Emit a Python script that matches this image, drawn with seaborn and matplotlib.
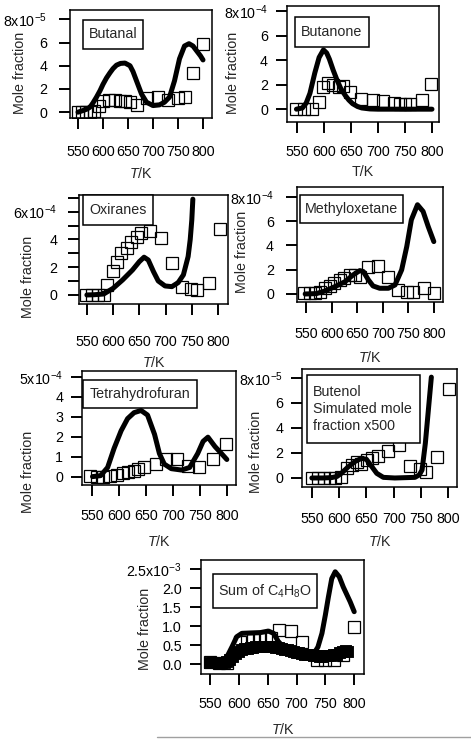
import matplotlib
matplotlib.use("Agg")
import matplotlib.pyplot as plt
import seaborn as sns
from matplotlib.patches import Rectangle
from matplotlib.lines import Line2D

# ---------------- data ----------------
x_ticks = [550, 600, 650, 700, 750, 800]

# Butanal (units of 1e-5)
butanal_exp_T = [550, 558, 566, 574, 582, 591, 600, 612, 624, 634, 644, 654, 668, 688, 710, 730, 749, 763, 779, 800]
butanal_exp = [0.05, 0.05, 0.05, 0.05, 0.1, 0.5, 1.0, 1.05, 1.05, 1.0, 0.95, 0.9, 0.6, 1.2, 1.35, 1.05, 1.2, 1.3, 3.35, 5.85]
butanal_sim_T = [550, 557, 567, 574, 580, 587, 594, 600, 607, 614, 620, 627, 635, 644, 654, 660, 667, 677, 687, 700,
                 713, 723, 733, 743, 753, 763, 772, 780, 787, 795, 800]
butanal_sim = [0.0, 0.1, 0.25, 0.43, 0.8, 1.3, 1.85, 2.4, 2.95, 3.4, 3.75, 4.05, 4.2, 4.23, 4.0, 3.5, 2.7, 1.57, 0.86, 0.57,
               0.63, 0.86, 1.3, 2.7, 4.6, 5.7, 5.9, 5.7, 5.3, 4.85, 4.5]

# Butanone (units of 1e-4)
butanone_exp_T = [549, 563, 577, 590, 599, 608, 617, 627, 636, 648, 669, 691, 710, 729, 741, 750, 759, 781, 799]
butanone_exp = [0.03, 0.0, 0.0, 0.6, 1.85, 2.13, 2.0, 1.85, 1.9, 1.43, 0.87, 0.73, 0.65, 0.5, 0.45, 0.45, 0.45, 0.73, 2.08]
butanone_sim_T = [549, 560, 567, 574, 583, 591, 599, 605, 610, 617, 624, 631, 639, 646, 653, 662, 670, 685, 700, 750, 800]
butanone_sim = [0, 0.1, 0.5, 1.3, 2.97, 4.24, 4.86, 4.6, 4.1, 3.2, 2.4, 1.7, 1.15, 0.75, 0.45, 0.22, 0.1, 0.02, 0, 0, 0]

# Oxiranes (units of 1e-4)
oxiranes_exp_T = [548, 559, 572, 582, 589, 599, 607, 616, 626, 635, 645, 654, 670, 691, 712, 731, 748, 759, 782, 804]
oxiranes_exp = [0, 0, 0, 0, 0.72, 1.76, 2.34, 3.0, 3.37, 3.78, 4.17, 4.46, 4.58, 4.1, 2.29, 0.55, 0.41, 0.36, 0.84, 4.75]
oxiranes_sim_T = [550, 565, 582, 600, 618, 637, 650, 659, 667, 677, 686, 699, 712, 724, 734, 743, 747, 750, 752]
oxiranes_sim = [0, 0.02, 0.07, 0.48, 1.08, 1.8, 2.4, 2.72, 2.52, 1.68, 1.01, 0.65, 0.6, 0.89, 1.45, 2.77, 4.0, 5.4, 6.9]

# Methyloxetane (units of 1e-4)
methylox_exp_T = [545, 558, 568, 577, 587, 597, 605, 616, 625, 636, 646, 656, 671, 690, 710, 729, 747, 760, 781, 801]
methylox_exp = [0.05, 0.05, 0.05, 0.19, 0.47, 0.66, 0.93, 1.15, 1.29, 1.57, 1.57, 1.43, 2.2, 2.3, 1.37, 0.33, 0.19, 0.19, 0.47, 0.05]
methylox_sim_T = [548, 570, 587, 606, 626, 642, 655, 662, 672, 681, 694, 711, 724, 737, 747, 756, 768, 779, 789, 800]
methylox_sim = [0, 0.03, 0.25, 0.6, 1.01, 1.57, 1.92, 1.84, 1.15, 0.66, 0.47, 0.47, 0.74, 1.98, 3.9, 6.1, 7.34, 6.79, 5.55, 4.31]

# Tetrahydrofuran (units of 1e-4)
thf_exp_T = [546, 559, 571, 583, 596, 607, 617, 627, 636, 646, 669, 688, 708, 728, 749, 775, 798]
thf_exp = [0.02, 0, 0, 0.02, 0.1, 0.16, 0.23, 0.28, 0.37, 0.46, 0.63, 0.86, 0.9, 0.54, 0.46, 0.86, 1.63]
thf_sim_T = [551, 566, 579, 591, 604, 616, 628, 641, 653, 666, 675, 684, 697, 716, 731, 746, 756, 765, 778, 790, 800]
thf_sim = [0, 0.05, 0.46, 1.42, 2.3, 2.91, 3.21, 3.32, 3.09, 2.12, 1.16, 0.63, 0.4, 0.33, 0.46, 1.16, 1.77, 1.98, 1.51, 1.16, 0.86]

# Butenol (units of 1e-5)
butenol_exp_T = [551, 562, 573, 583, 592, 603, 614, 623, 632, 641, 651, 660, 671, 690, 710, 730, 749, 760, 780, 801]
butenol_exp = [0, 0, 0, 0, 0, 0.1, 0.77, 1.04, 1.3, 1.12, 1.44, 1.57, 1.76, 2.19, 2.6, 0.96, 0.75, 0.5, 1.68, 7.1]
butenol_sim_T = [550, 570, 586, 596, 604, 617, 629, 641, 650, 660, 669, 681, 702, 739, 747, 752, 758, 763, 769]
butenol_sim = [0, 0, 0.03, 0.12, 0.37, 0.9, 1.31, 1.57, 1.49, 0.9, 0.37, 0.05, 0, 0.05, 0.25, 0.64, 2.77, 5.17, 8.05]

# Sum of C4H8O (units of 1e-3)
sum_exp_T = [550, 565, 580, 602, 614, 625, 636, 646, 655, 670, 691, 709, 735, 750, 765, 780, 799]
sum_exp = [0.05, 0.02, 0.03, 0.59, 0.63, 0.63, 0.65, 0.68, 0.7, 0.89, 0.86, 0.58, 0.12, 0.1, 0.12, 0.25, 0.97]
sum_dense_T = [550, 555, 560, 565, 570, 575, 580, 585, 590, 595, 600, 605, 610, 615, 620, 625, 630, 635, 640, 645,
               650, 655, 660, 665, 670, 675, 680, 685, 690, 695, 700, 705, 710, 715, 720, 725, 730, 735, 740, 745,
               750, 755, 760, 765, 770, 775, 780, 785, 790]
sum_dense = [0.02, 0.02, 0.02, 0.02, 0.03, 0.03, 0.05, 0.12, 0.2, 0.27, 0.32, 0.36, 0.39, 0.41, 0.42, 0.43, 0.44, 0.45, 0.46, 0.46,
             0.46, 0.45, 0.44, 0.43, 0.42, 0.40, 0.38, 0.36, 0.34, 0.32, 0.30, 0.28, 0.26, 0.25, 0.24, 0.23, 0.22, 0.21, 0.20, 0.20,
             0.21, 0.22, 0.22, 0.23, 0.25, 0.28, 0.32, 0.35, 0.33]
sum_sim_T = [550, 565, 576, 588, 596, 605, 620, 637, 651, 660, 668, 677, 690, 705, 720, 730, 737, 744, 750, 755,
             761, 767, 774, 781, 793, 800]
sum_sim = [0.0, 0.0, 0.1, 0.46, 0.72, 0.81, 0.82, 0.83, 0.87, 0.81, 0.6, 0.45, 0.35, 0.28, 0.24, 0.28, 0.45, 0.81, 1.3, 1.75,
           2.25, 2.43, 2.3, 2.03, 1.64, 1.38]

# ---------------- style ----------------
sns.set_style("ticks")
plt.rcParams["font.family"] = ["Liberation Sans", "DejaVu Sans"]
plt.rcParams["mathtext.fontset"] = "custom"
plt.rcParams["mathtext.rm"] = "Liberation Sans"
plt.rcParams["mathtext.it"] = "Liberation Sans:italic"
plt.rcParams["mathtext.bf"] = "Liberation Sans:bold"

W, H = 471, 739
FS = 10.3
TICKLEN = 11  # px
fig = plt.figure(figsize=(W / 100, H / 100), dpi=100)
fig.patch.set_facecolor("white")

TK_IT = "$T$/K"

panels = [
    dict(frame=(70, 10, 212, 118), xlim=(534, 818), ylim=(-0.5, 8.8),
         yt=[0, 2, 4, 6, 8], ytl=["0", "2", "4", "6", "8x10$^{-5}$"],
         exp=(butanal_exp_T, butanal_exp), sim=(butanal_sim_T, butanal_sim),
         box=(83, 20, 143, 49), text="Butanal", xlabel=TK_IT,
         xl_y=173, yl=(20, 73), ypad=12, xlab_c=153),
    dict(frame=(287, 6, 439, 122), xlim=(531.5, 813), ylim=(-1.05, 8.45),
         yt=[0, 2, 4, 6, 8], ytl=["0", "2", "4", "6", "8x10$^{-4}$"],
         exp=(butanone_exp_T, butanone_exp), sim=(butanone_sim_T, butanone_sim),
         box=(295, 17, 369, 47), text="Butanone", xlabel="T/K",
         xl_y=172, yl=(233, 73), ypad=8, xlab_c=153),
    dict(frame=(79, 195, 228, 304), xlim=(535, 819), ylim=(-0.65, 7.2),
         yt=[0, 1, 2, 3, 4, 5, 6, 7], ytl=["0", "", "2", "", "4", "", "6x10$^{-4}$", ""],
         exp=(oxiranes_exp_T, oxiranes_exp), sim=(oxiranes_sim_T, oxiranes_sim),
         box=(83, 195, 153, 225), text="Oxiranes", xlabel=TK_IT,
         xl_y=362, yl=(28, 277), ypad=11, xlab_c=343),
    dict(frame=(297, 187, 443, 302), xlim=(532, 818), ylim=(-0.66, 8.8),
         yt=[0, 2, 4, 6, 8], ytl=["0", "2", "4", "6", "8x10$^{-4}$"],
         exp=(methylox_exp_T, methylox_exp), sim=(methylox_sim_T, methylox_sim),
         box=(300, 195, 403, 223), text="Methyloxetane", xlabel=TK_IT,
         xl_y=358, yl=(242, 252), ypad=12, xlab_c=335),
    dict(frame=(82, 371, 236, 485), xlim=(531.5, 817), ylim=(-0.42, 5.3),
         yt=[0, 1, 2, 3, 4, 5], ytl=["0", "1", "2", "3", "4", "5x10$^{-4}$"],
         exp=(thf_exp_T, thf_exp), sim=(thf_sim_T, thf_sim),
         box=(83, 380, 197, 408), text="Tetrahydrofuran", xlabel=TK_IT,
         xl_y=542, yl=(28, 472), ypad=8, xlab_c=517),
    dict(frame=(302, 369, 457, 487), xlim=(532, 816), ylim=(-0.72, 8.7),
         yt=[0, 2, 4, 6, 8], ytl=["0", "2", "4", "6", "8x10$^{-5}$"],
         exp=(butenol_exp_T, butenol_exp), sim=(butenol_sim_T, butenol_sim),
         box=(307, 375, 420, 443), text="Butenol\nSimulated mole\nfraction x500", xlabel=TK_IT,
         xl_y=542, yl=(256, 452), ypad=8, xlab_c=520, left_text=True),
    dict(frame=(201, 560, 364, 674), xlim=(534, 817), ylim=(-0.26, 2.74),
         yt=[0, 0.5, 1.0, 1.5, 2.0, 2.5], ytl=["0.0", "0.5", "1.0", "1.5", "2.0", "2.5x10$^{-3}$"],
         exp=(sum_exp_T, sum_exp), sim=(sum_sim_T, sum_sim), dense=(sum_dense_T, sum_dense),
         box=(213, 574, 317, 608), text="Sum of C$_4$H$_8$O", xlabel=TK_IT,
         xl_y=730, yl=(145, 629), ypad=8, xlab_c=705),
]

for p in panels:
    x0, y0, x1, y1 = p["frame"]
    fw, fh = x1 - x0, y1 - y0
    ax = fig.add_axes([x0 / W, 1 - y1 / H, fw / W, fh / H])
    ax.set_facecolor("white")

    eT, eV = p["exp"]
    sns.lineplot(x=eT, y=eV, ax=ax, estimator=None, sort=False, linestyle="none",
                 marker="s", markersize=8.6, markerfacecolor="none",
                 markeredgecolor="black", markeredgewidth=0.9, zorder=2)
    if "dense" in p:
        dT, dV = p["dense"]
        sns.lineplot(x=dT, y=dV, ax=ax, estimator=None, sort=False, linestyle="none",
                     marker="s", markersize=6.0, markerfacecolor="none",
                     markeredgecolor="black", markeredgewidth=2.8, zorder=2.5)
    sT, sV = p["sim"]
    sns.lineplot(x=sT, y=sV, ax=ax, estimator=None, sort=False, color="black",
                 linewidth=3.6, zorder=3)

    ax.set_xlim(*p["xlim"])
    ax.set_ylim(*p["ylim"])
    ax.set_xticks(x_ticks)
    ax.set_xticklabels([str(t) for t in x_ticks])
    ax.set_yticks(p["yt"])
    ax.set_yticklabels(p["ytl"])

    for s in ax.spines.values():
        s.set_visible(True)
        s.set_linewidth(1.1)
        s.set_color("black")

    xpad_px = p["xlab_c"] - y1 - TICKLEN - 7.8
    ax.tick_params(axis="x", direction="out", length=TICKLEN * 0.72, width=1.4,
                   labelsize=FS, pad=xpad_px * 0.72, colors="black")
    ax.tick_params(axis="y", direction="out", length=TICKLEN * 0.72, width=1.4,
                   labelsize=FS, pad=p["ypad"] * 0.72, colors="black")

    ax.set_xlabel(p["xlabel"], fontsize=FS)
    ax.set_ylabel("Mole fraction", fontsize=FS)
    ax.xaxis.label.set_va("center")
    ax.yaxis.label.set_va("center")
    ax.xaxis.set_label_coords(0.5, (y1 - p["xl_y"]) / fh)
    lx, ly = p["yl"]
    ax.yaxis.set_label_coords((lx - x0) / fw, (y1 - ly) / fh)

    bx0, by0, bx1, by1 = p["box"]
    rx, ry = (bx0 - x0) / fw, (y1 - by1) / fh
    rw, rh = (bx1 - bx0) / fw, (by1 - by0) / fh
    ax.add_patch(Rectangle((rx, ry), rw, rh, transform=ax.transAxes, facecolor="white",
                           edgecolor="black", linewidth=1.1, zorder=5, clip_on=False))
    if p.get("left_text"):
        ax.text(rx + 6 / fw, ry + rh / 2, p["text"], transform=ax.transAxes, ha="left", va="center",
                fontsize=FS, linespacing=1.3, zorder=6)
    else:
        ax.text(rx + rw / 2, ry + rh / 2, p["text"], transform=ax.transAxes, ha="center", va="center",
                fontsize=FS, zorder=6)

fig.add_artist(Line2D([157 / W, 1.0], [1 - 737 / H, 1 - 737 / H], transform=fig.transFigure,
                      color="#a0a0a0", linewidth=1.0))

fig.savefig("out.png", dpi=100, facecolor="white")
